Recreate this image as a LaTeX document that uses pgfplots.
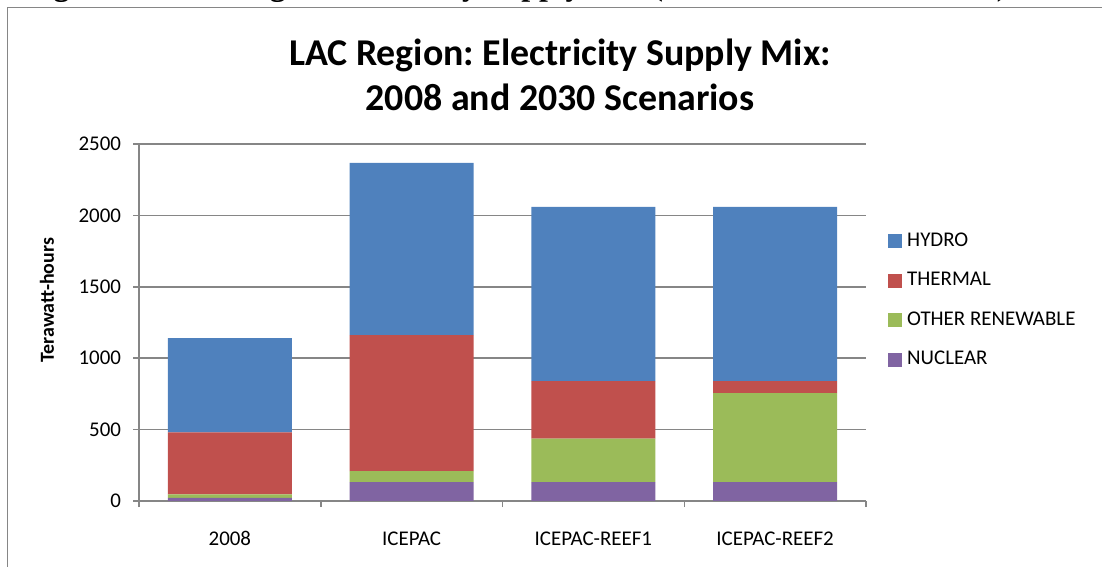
\documentclass[border=0pt]{standalone}
\usepackage{pgfplots}
\pgfplotsset{compat=1.18}
\usepackage{fontspec}
\setmainfont{Carlito}
\newfontfamily\capfont{Liberation Serif}
\frenchspacing

\definecolor{hydro}{HTML}{4F81BD}
\definecolor{thermal}{HTML}{C0504D}
\definecolor{otherren}{HTML}{9BBB59}
\definecolor{nuclear}{HTML}{8064A2}
\definecolor{gridgray}{RGB}{134,134,134}

\begin{document}
\begin{tikzpicture}
\useasboundingbox (0,0) rectangle (551bp,283.5bp);
% cut-off caption of the page and chart frame
\node[anchor=base east, inner sep=0, font=\capfont\bfseries\fontsize{16}{18}\selectfont]
  at (504bp,285.5bp) {Figure 6: LAC Region Electricity Supply Mix (2008 and 2030 Scenarios)};
\draw[gridgray, line width=0.9bp] (3.75bp,-5bp) |- (560bp,279.75bp);
% chart title
\node[anchor=base, font=\bfseries\fontsize{19}{22}\selectfont] at (280bp,250.5bp) {LAC Region: Electricity Supply Mix:};
\node[anchor=base, font=\bfseries\fontsize{19}{22}\selectfont] at (280bp,228bp) {2008 and 2030 Scenarios};

\begin{axis}[
    scale only axis, width=363.5bp, height=178.5bp,
    at={(69.5bp,33bp)}, anchor=south west,
    ybar stacked, bar width=62bp,
    xmin=-0.5, xmax=3.5, ymin=0, ymax=2500,
    xtick={0,1,2,3},
    xticklabels={2008,ICEPAC,ICEPAC-REEF1,ICEPAC-REEF2},
    minor xtick={-0.5,0.5,1.5,2.5,3.5},
    ytick={0,500,1000,1500,2000,2500},
    axis x line*=bottom, axis y line*=left,
    xtick pos=bottom, ytick pos=left,
    axis line style={-, gridgray, line width=0.75bp},
    ymajorgrids, major grid style={gridgray, line width=0.75bp},
    tick align=outside, major tick length=3bp, minor tick length=3bp,
    tick style={gridgray, line width=0.75bp},
    major x tick style={draw=none},
    tick label style={font=\fontsize{10.5}{12}\selectfont, text=black},
    xticklabel style={anchor=base, yshift=-19bp},
    yticklabel style={xshift=-2.5bp},
    /pgf/number format/assume math mode=true,
    /pgf/number format/1000 sep={},
    scaled y ticks=false,
    ylabel={Terawatt-hours},
    ylabel style={font=\bfseries\fontsize{10}{12}\selectfont,
        at={(axis description cs:-0.1265,0.563)}, anchor=center},
    legend style={at={(axis description cs:1.030,0.762)}, anchor=north west,
        draw=none, fill=none, font=\fontsize{10.5}{12}\selectfont,
        row sep=7.75bp, inner sep=0pt,
        nodes={inner sep=1bp, text height=7.5bp, text depth=2.5bp},
        /tikz/every odd column/.append style={column sep=1.5bp}},
    legend cell align=left,
    reverse legend,
    legend image code/.code={\fill[#1] (0bp,-3.5bp) rectangle (7bp,3.5bp);},
]
\addplot[fill=nuclear, draw=none] coordinates {(0,22) (1,133) (2,133) (3,133)};
\addplot[fill=otherren, draw=none] coordinates {(0,25) (1,77) (2,303) (3,623)};
\addplot[fill=thermal, draw=none] coordinates {(0,434) (1,952) (2,404) (3,84)};
\addplot[fill=hydro, draw=none] coordinates {(0,660) (1,1205) (2,1219) (3,1219)};
\legend{NUCLEAR,OTHER RENEWABLE,THERMAL,HYDRO}
\end{axis}
\end{tikzpicture}
\end{document}
